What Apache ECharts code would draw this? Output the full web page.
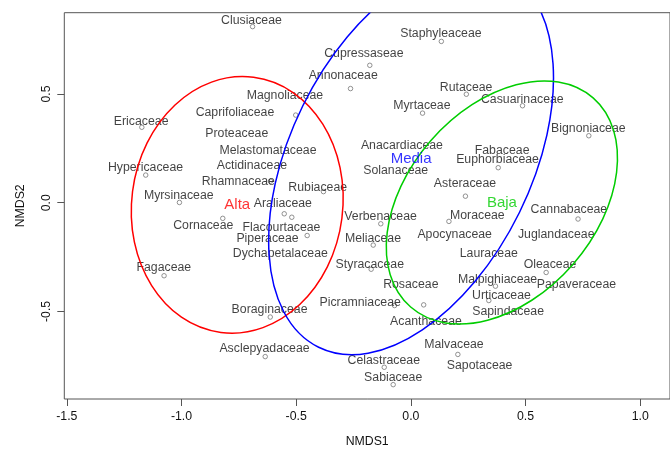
<!DOCTYPE html>
<html>
<head>
<meta charset="utf-8">
<script src="https://cdn.jsdelivr.net/npm/echarts@6/dist/echarts.min.js"></script>
<style>
  html, body { margin: 0; padding: 0; background: #fff; }
  #nmds { width: 670px; height: 453px; }
</style>
</head>
<body>
<div id="nmds"></div>
<script>
// etiquetas de familias (posicion del texto en el espacio NMDS)
const families = [
  "Clusiaceae", "Staphyleaceae", "Cupressaseae", "Annonaceae", "Rutaceae", "Magnoliaceae",
  "Casuarinaceae", "Myrtaceae", "Caprifoliaceae", "Ericaceae", "Bignoniaceae", "Proteaceae",
  "Anacardiaceae", "Melastomataceae", "Fabaceae", "Euphorbiaceae", "Actidinaceae", "Hypericaceae",
  "Solanaceae", "Rhamnaceae", "Asteraceae", "Rubiaceae", "Myrsinaceae", "Araliaceae",
  "Cannabaceae", "Moraceae", "Verbenaceae", "Cornaceae", "Flacourtaceae", "Apocynaceae",
  "Juglandaceae", "Meliaceae", "Piperaceae", "Lauraceae", "Dychapetalaceae", "Styracaceae",
  "Oleaceae", "Fagaceae", "Malpighiaceae", "Rosaceae", "Papaveraceae", "Urticaceae",
  "Picramniaceae", "Boraginaceae", "Sapindaceae", "Acanthaceae", "Malvaceae", "Asclepyadaceae",
  "Celastraceae", "Sapotaceae", "Sabiaceae"
];
const labelX = [
  -0.695, 0.131, -0.205, -0.295, 0.241, -0.549,
  0.486, 0.048, -0.767, -1.176, 0.774, -0.759,
  -0.039, -0.623, 0.398, 0.378, -0.693, -1.157,
  -0.066, -0.752, 0.236, -0.406, -1.012, -0.558,
  0.689, 0.290, -0.132, -0.905, -0.564, 0.191,
  0.634, -0.165, -0.625, 0.340, -0.569, -0.179,
  0.607, -1.077, 0.378, 0.000, 0.722, 0.395,
  -0.221, -0.616, 0.424, 0.066, 0.188, -0.638,
  -0.118, 0.300, -0.077
];
const labelY = [
  0.837, 0.778, 0.686, 0.585, 0.531, 0.491,
  0.475, 0.447, 0.415, 0.371, 0.343, 0.318,
  0.262, 0.241, 0.241, 0.198, 0.172, 0.163,
  0.149, 0.095, 0.086, 0.071, 0.033, -0.002,
  -0.030, -0.060, -0.066, -0.104, -0.113, -0.147,
  -0.149, -0.166, -0.166, -0.233, -0.236, -0.286,
  -0.286, -0.298, -0.352, -0.377, -0.379, -0.429,
  -0.458, -0.494, -0.503, -0.546, -0.655, -0.671,
  -0.725, -0.748, -0.805
];

// puntos visibles (scores)
const pointX = [
  -0.690, 0.133, -0.179, -0.263, 0.242, 0.487, 0.051, -0.502, -1.173, 0.776,
  0.381, -1.156, -0.612, -0.381, 0.238, -1.009, -0.552, -0.519, -0.820, 0.729,
  0.166, -0.131, -0.452, -0.164, -0.173, 0.590, -1.076, 0.369, 0.340, -0.071,
  0.056, -0.613, 0.205, -0.635, -0.116, -0.077
];
const pointY = [
  0.810, 0.742, 0.632, 0.525, 0.499, 0.446, 0.412, 0.403, 0.347, 0.308,
  0.161, 0.127, 0.099, 0.051, 0.030, 0.001, -0.051, -0.067, -0.072, -0.075,
  -0.086, -0.097, -0.151, -0.195, -0.306, -0.321, -0.336, -0.384, -0.450, -0.473,
  -0.470, -0.526, -0.698, -0.708, -0.757, -0.837
];

// elipses por grupo (centro, semiancho, semialto, correlacion)
const groups = ["Alta", "Media", "Baja"];
const groupColors = ["#FF0000", "#0000FF", "#00CD00"];
const ellCenterX = [-0.757, 0.001, 0.397];
const ellCenterY = [-0.010, 0.200, 0.001];
const ellHalfX = [0.462, 0.621, 0.504];
const ellHalfY = [0.590, 0.899, 0.559];
const ellCor = [0.05, 0.417, 0.366];

const xTicks = [-1.5, -1.0, -0.5, 0.0, 0.5, 1.0];
const yTicks = [-0.5, 0.0, 0.5];

const textFont = "Liberation Sans, Arial, sans-serif";

function renderEllipse(params, api) {
  const i = params.dataIndex;
  const c = api.coord([api.value(0), api.value(1)]);
  const s = api.size([ellHalfX[i], ellHalfY[i]]);
  const sxx = s[0] * s[0];
  const syy = s[1] * s[1];
  // en pantalla el eje y va hacia abajo
  const sxy = -ellCor[i] * s[0] * s[1];
  const half = (sxx - syy) / 2;
  const root = Math.sqrt(half * half + sxy * sxy);
  const mid = (sxx + syy) / 2;
  const theta = 0.5 * Math.atan2(2 * sxy, sxx - syy);
  return {
    type: "ellipse",
    x: c[0],
    y: c[1],
    rotation: -theta,
    shape: { cx: 0, cy: 0, rx: Math.sqrt(mid + root), ry: Math.sqrt(mid - root) },
    style: { fill: "none", stroke: groupColors[i], lineWidth: 1.5 }
  };
}

const myChart = echarts.init(document.getElementById("nmds"));
const option = {
  backgroundColor: "#fff",
  animation: false,
  grid: {
    left: 64.3,
    right: -11,
    top: 12.7,
    bottom: 50.3,
    show: true,
    borderColor: "#555",
    borderWidth: 1
  },
  xAxis: {
    type: "value",
    min: -1.511,
    max: 1.13,
    name: "NMDS1",
    nameLocation: "middle",
    nameGap: 37,
    nameTextStyle: { color: "#111", fontSize: 12.3, fontFamily: textFont },
    // sin onZero, si no las marcas quedan en y = 0
    axisLine: { show: false, onZero: false },
    splitLine: { show: false },
    axisTick: { customValues: xTicks, length: 7, lineStyle: { color: "#555" } },
    axisLabel: {
      customValues: xTicks,
      formatter: v => v.toFixed(1),
      margin: 12,
      color: "#111",
      fontSize: 12.3,
      fontFamily: textFont
    }
  },
  yAxis: {
    type: "value",
    min: -0.903,
    max: 0.874,
    name: "NMDS2",
    nameLocation: "middle",
    nameGap: 38,
    nameTextStyle: { color: "#111", fontSize: 12.3, fontFamily: textFont },
    axisLine: { show: false, onZero: false },
    splitLine: { show: false },
    axisTick: { customValues: yTicks, length: 7, lineStyle: { color: "#555" } },
    axisLabel: {
      customValues: yTicks,
      formatter: v => v.toFixed(1),
      rotate: 90,
      margin: 12,
      color: "#111",
      fontSize: 12.3,
      fontFamily: textFont
    }
  },
  series: [
    {
      // puntos
      type: "scatter",
      symbol: "circle",
      symbolSize: 4.5,
      silent: true,
      itemStyle: { color: "transparent", borderColor: "#777", borderWidth: 1 },
      data: pointX.map((x, i) => [x, pointY[i]]),
      z: 2
    },
    {
      // nombres de familias
      type: "scatter",
      symbolSize: 0.1,
      silent: true,
      itemStyle: { color: "transparent" },
      label: {
        show: true,
        position: "inside",
        formatter: "{b}",
        color: "#111",
        fontSize: 12.3,
        fontFamily: textFont
      },
      data: families.map((f, i) => ({ name: f, value: [labelX[i], labelY[i]] })),
      z: 3
    },
    {
      // elipses de los grupos
      type: "custom",
      clip: true,
      silent: true,
      renderItem: renderEllipse,
      data: ellCenterX.map((x, i) => [x, ellCenterY[i]]),
      z: 4
    },
    {
      // nombres de grupos
      type: "scatter",
      symbolSize: 0.1,
      silent: true,
      itemStyle: { color: "transparent" },
      label: {
        show: true,
        position: "inside",
        formatter: "{b}",
        fontSize: 15,
        fontFamily: textFont
      },
      data: groups.map((g, i) => ({
        name: g,
        value: [ellCenterX[i], ellCenterY[i]],
        label: { color: groupColors[i] }
      })),
      z: 5
    }
  ]
};
myChart.setOption(option);
</script>
</body>
</html>
